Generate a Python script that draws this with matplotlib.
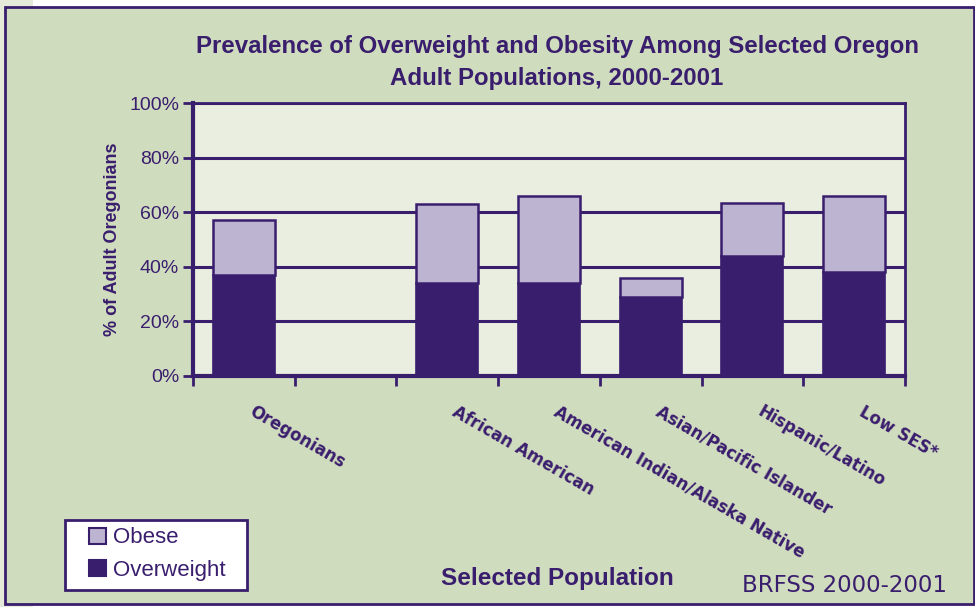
import matplotlib
matplotlib.use("Agg")
import matplotlib.pyplot as plt
import matplotlib.transforms as mtransforms
from matplotlib.patches import Rectangle, Patch
import numpy as np

categories = ["Oregonians", "", "African American", "American Indian/Alaska Native",
              "Asian/Pacific Islander", "Hispanic/Latino", "Low SES*"]
overweight = [37, 0, 34, 34, 29, 44, 38]
obese = [20, 0, 29, 32, 7, 19.5, 28]
yticks = [0, 20, 40, 60, 80, 100]
ytick_labels = ["0%", "20%", "40%", "60%", "80%", "100%"]

DARK = "#3a1e6e"
LIGHT = "#bcb4d0"
BG = "#d0dcbe"
PLOT_BG = "#e9eee0"
TXT = "#3a1e6e"

plt.rcParams['font.family'] = ['Liberation Sans', 'DejaVu Sans']

fig = plt.figure(figsize=(9.75, 6.07), dpi=100)
fig.patch.set_facecolor("white")
W, H = 975, 607
fig.patches.append(Rectangle((0, 0), 33 / W, 1, transform=fig.transFigure,
                             facecolor="#e6ebd9", edgecolor="none", zorder=-2))
fig.patches.append(Rectangle((5 / W, 3 / H), 969 / W, 597 / H, transform=fig.transFigure,
                             facecolor=BG, edgecolor=DARK, linewidth=2, zorder=-1))
# legend box
fig.patches.append(Rectangle((65 / W, 1 - 590 / H), 182 / W, 70 / H, transform=fig.transFigure,
                             facecolor="white", edgecolor=DARK, linewidth=2, zorder=1))

ax = fig.add_axes([193 / W, 1 - 376 / H, 712 / W, 273 / H])
ax.set_zorder(2)
ax.set_facecolor(PLOT_BG)
x = np.arange(len(categories))
ov = np.array(overweight, dtype=float)
ob = np.array(obese, dtype=float)
mask = (ov + ob) > 0
ax.bar(x[mask], ov[mask], width=0.61, color=DARK, edgecolor=DARK, linewidth=1.2, zorder=3,
       label="Overweight")
ax.bar(x[mask], ob[mask], bottom=ov[mask], width=0.61, color=LIGHT, edgecolor=DARK,
       linewidth=1.8, zorder=3, label="Obese")

ax.set_xlim(-0.5, len(categories) - 0.5)
ax.set_ylim(0, 100)
ax.set_yticks(yticks)
ax.set_yticklabels(ytick_labels, fontsize=14, color=TXT)
ax.yaxis.grid(True, color=DARK, linewidth=2.2, zorder=1)
ax.set_axisbelow(True)
ax.tick_params(axis='y', direction='out', length=7, width=2, color=DARK, pad=3)

ax.set_xticks(np.arange(len(categories) + 1) - 0.5)
ax.set_xticklabels([])
ax.tick_params(axis='x', which='major', direction='out', length=7, width=2, color=DARK)
ax.set_xticks(x, minor=True)
ax.set_xticklabels(categories, minor=True, rotation=-30, ha='left', va='top',
                   rotation_mode='anchor', fontsize=12, fontweight='bold', color=TXT,
                   family=['DejaVu Sans'])
ax.tick_params(axis='x', which='minor', length=0, pad=19)
offset = mtransforms.ScaledTranslation(11 / 100, 0, fig.dpi_scale_trans)
for lbl in ax.get_xticklabels(minor=True):
    lbl.set_transform(lbl.get_transform() + offset)

for side in ['left', 'bottom']:
    ax.spines[side].set_color(DARK)
    ax.spines[side].set_linewidth(3)
for side in ['top', 'right']:
    ax.spines[side].set_color(DARK)
    ax.spines[side].set_linewidth(2)

ax.set_ylabel("% of Adult Oregonians", fontsize=13, fontweight='bold', color=TXT, labelpad=6)

fig.text(557 / W, 1 - 47 / H, "Prevalence of Overweight and Obesity Among Selected Oregon",
         ha='center', va='center', fontsize=17.3, fontweight='bold', color=TXT)
fig.text(557 / W, 1 - 78 / H, "Adult Populations, 2000-2001",
         ha='center', va='center', fontsize=17.3, fontweight='bold', color=TXT)
fig.text(557 / W, 1 - 578 / H, "Selected Population", ha='center', va='center',
         fontsize=17.5, fontweight='bold', color=TXT)
fig.text(845 / W, 1 - 585 / H, "BRFSS 2000-2001", ha='center', va='center',
         fontsize=16.5, color=TXT, family=['DejaVu Sans'])

handles = [Patch(facecolor=LIGHT, edgecolor=DARK, linewidth=1.5, label="Obese"),
           Patch(facecolor=DARK, edgecolor=DARK, linewidth=1.5, label="Overweight")]
leg = fig.legend(handles=handles, loc='center left', bbox_to_anchor=(89 / W, 1 - 554 / H),
                 frameon=False, fontsize=16, handlelength=0.75,
                 handleheight=0.75, handletextpad=0.35, borderpad=0, labelspacing=0.5,
                 borderaxespad=0)
leg.set_zorder(3)
for t in leg.get_texts():
    t.set_color(TXT)

fig.savefig("out.png", dpi=100)
